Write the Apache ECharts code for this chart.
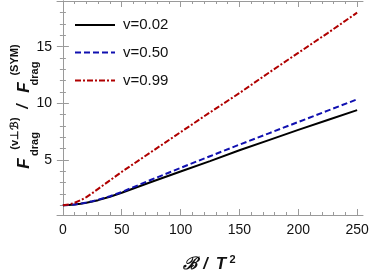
<!DOCTYPE html>
<html><head><meta charset="utf-8">
<script src="https://cdn.jsdelivr.net/npm/echarts@6/dist/echarts.min.js"></script>
<style>html,body{margin:0;padding:0;background:#fff}#c{width:374px;height:271px}</style>
</head><body><div id="c"></div>
<script>
const B = [0,5,10,15,20,25,30,40,50,75,100,125,150,175,200,225,250];
const v002 = [1,1.02,1.06,1.13,1.22,1.33,1.45,1.75,2.1,3.05,3.98,4.9,5.85,6.75,7.65,8.53,9.4];
const v050 = [1,1.02,1.07,1.14,1.24,1.36,1.49,1.8,2.17,3.25,4.3,5.33,6.35,7.35,8.35,9.35,10.35];
const v099 = [1,1.07,1.22,1.44,1.72,2.07,2.45,3.2,3.95,5.7,7.45,9.2,10.9,12.7,14.45,16.2,18.0];
const seriesNames = ['v=0.02','v=0.50','v=0.99'];
const xMajor = [0,50,100,150,200,250];
const yMajor = [5,10,15];

const xMinor = []; for (let v=0; v<=250; v+=10) if (v%50!==0) xMinor.push(v);
const yMinor = []; for (let v=1; v<=19; v++) if (v%5!==0) yMinor.push(v);

const gray = '#9a9a9a';
const font = "'Liberation Sans', Arial, sans-serif";
function xAx(pos, vals, len, labels, line){
  return {type:'value', position:pos, min:-5, max:255,
    axisLine:{show:line, lineStyle:{color:gray,width:1}},
    axisTick:{show:true, inside:true, length:len, customValues:vals, lineStyle:{color:gray}},
    axisLabel:{show:labels, customValues:vals, fontSize:14, fontFamily:font, color:'#111', margin:8},
    splitLine:{show:false}};
}
function yAx(pos, vals, len, labels, line){
  return {type:'value', position:pos, min:0.14, max:19.03,
    axisLine:{show:line, lineStyle:{color:gray,width:1}},
    axisTick:{show:true, inside:true, length:len, customValues:vals, lineStyle:{color:gray}},
    axisLabel:{show:labels, customValues:vals, fontSize:14, fontFamily:font, color:'#111', margin:5},
    splitLine:{show:false}};
}
const mk = a => B.map((b,i)=>[b,a[i]]);
const styles = [
  {color:'#000000', type:'solid'},
  {color:'#1010b0', type:[6,3]},
  {color:'#b00000', type:[6,2,2,2]}
];
const legendY = [25, 52.5, 80.5];
const legendGraphics = [];
seriesNames.forEach((n,i)=>{
  legendGraphics.push({type:'line', shape:{x1:75,y1:legendY[i],x2:115,y2:legendY[i]},
    style:{stroke:styles[i].color, lineWidth:2, lineDash: styles[i].type==='solid'?null:styles[i].type}});
  legendGraphics.push({type:'text', x:123, y:legendY[i], style:{text:n, font:'15px '+font, fill:'#111', align:'left', verticalAlign:'middle'}});
});
const chart = echarts.init(document.getElementById('c'));
chart.setOption({
  animation:false,
  grid:{left:57, right:11, top:1, bottom:56},
  xAxis:[xAx('bottom',xMajor,6,true,true), xAx('bottom',xMinor,3,false,false),
         xAx('top',xMajor,6,false,true), xAx('top',xMinor,3,false,false)],
  yAxis:[yAx('left',yMajor,6,true,true), yAx('left',yMinor,3,false,false),
         yAx('right',yMajor,6,false,true), yAx('right',yMinor,3,false,false)],
  series:[v002,v050,v099].map((d,i)=>({
    name:seriesNames[i], type:'line', data:mk(d), showSymbol:false, symbol:'none',
    smooth:false,
    lineStyle:{width:2, color:styles[i].color, type:styles[i].type},
    itemStyle:{color:styles[i].color}
  })),
  graphic:legendGraphics.concat([
    {type:'text', x:24, y:163.5, rotation:Math.PI/2, style:{text:'F', font:'italic bold 17px '+font, fill:'#111', align:'center', verticalAlign:'middle'}},
    {type:'text', x:15, y:133.5, rotation:Math.PI/2, style:{text:'(v⊥ℬ)', font:'bold 11px '+font, fill:'#111', align:'center', verticalAlign:'middle'}},
    {type:'text', x:34.5, y:144, rotation:Math.PI/2, style:{text:'drag', font:'bold 11px '+font, fill:'#111', align:'center', verticalAlign:'middle'}},
    {type:'text', x:24, y:106.5, rotation:Math.PI/2, style:{text:'/', font:'italic bold 16px '+font, fill:'#111', align:'center', verticalAlign:'middle'}},
    {type:'text', x:24, y:87.5, rotation:Math.PI/2, style:{text:'F', font:'italic bold 17px '+font, fill:'#111', align:'center', verticalAlign:'middle'}},
    {type:'text', x:34.5, y:73.5, rotation:Math.PI/2, style:{text:'drag', font:'bold 11px '+font, fill:'#111', align:'center', verticalAlign:'middle'}},
    {type:'text', x:15, y:60, rotation:Math.PI/2, style:{text:'(SYM)', font:'bold 11px '+font, fill:'#111', align:'center', verticalAlign:'middle'}},
    {type:'text', x:190, y:264.5, style:{text:'ℬ', font:'italic bold 17px '+font, fill:'#111', align:'center', verticalAlign:'middle'}},
    {type:'text', x:205.5, y:264.5, style:{text:'/', font:'italic bold 16px '+font, fill:'#111', align:'center', verticalAlign:'middle'}},
    {type:'text', x:221, y:264.5, style:{text:'T', font:'italic bold 17px '+font, fill:'#111', align:'center', verticalAlign:'middle'}},
    {type:'text', x:232.5, y:260, style:{text:'2', font:'bold 11px '+font, fill:'#111', align:'center', verticalAlign:'middle'}}
  ])
});
</script></body></html>
